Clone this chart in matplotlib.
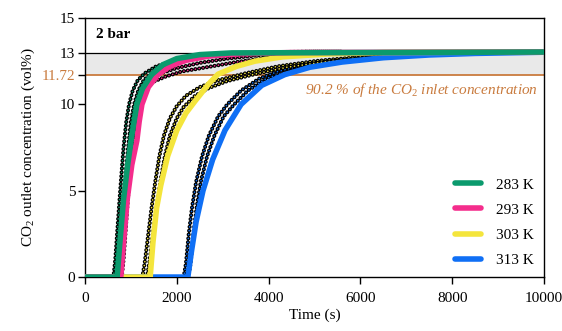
import matplotlib
matplotlib.use("Agg")
import matplotlib.pyplot as plt

plt.rcParams["font.family"] = ["Liberation Serif", "DejaVu Serif"]
plt.rcParams["mathtext.fontset"] = "custom"
plt.rcParams["mathtext.rm"] = "Liberation Serif"
plt.rcParams["mathtext.it"] = "Liberation Serif:italic"
plt.rcParams["lines.scale_dashes"] = False

temps = ["283 K", "293 K", "303 K", "313 K"]
colors = ["#0b9a6d", "#f42d8c", "#f4e53c", "#0f6ff5"]

# model curves (time s, CO2 vol%)
t_283 = [0, 700, 760, 840, 930, 1020, 1130, 1250, 1450, 1700, 2000, 2500, 3200, 10000]
c_283 = [0, 0, 2, 4.5, 6.5, 8.2, 10, 10.9, 11.72, 12.3, 12.65, 12.88, 12.98, 13.03]
t_293 = [0, 780, 840, 920, 1020, 1130, 1180, 1240, 1380, 1590, 1850, 2200, 2700, 3400, 4500, 10000]
c_293 = [0, 0, 2, 4.5, 6.5, 7.9, 9, 10, 11, 11.72, 12.2, 12.55, 12.8, 12.93, 13.0, 13.03]
t_303 = [0, 1420, 1480, 1560, 1650, 1800, 2000, 2200, 2400, 2700, 2900, 3300, 3700, 4300, 5300, 6500, 10000]
c_303 = [0, 0, 2, 4, 5.3, 7, 8.5, 9.5, 10.2, 11.2, 11.75, 12.2, 12.5, 12.75, 12.92, 13.0, 13.03]
t_313 = [0, 2240, 2320, 2420, 2570, 2780, 3050, 3400, 3850, 4350, 4900, 5600, 6500, 7500, 8500, 10000]
c_313 = [0, 0, 1.5, 3.2, 5, 6.8, 8.5, 10, 11.1, 11.72, 12.15, 12.45, 12.7, 12.86, 12.95, 13.02]

# experimental runs
exp_283a_t = [620, 660, 700, 740, 790, 840, 900, 960, 1040, 1150, 1300, 1550, 1900, 2400, 3000, 3800, 4800, 5600]
exp_283a_c = [0, 1, 2.5, 4, 5.8, 7.5, 9, 10, 10.8, 11.4, 11.8, 12.2, 12.5, 12.75, 12.9, 13.0, 13.05, 13.05]
exp_283b_t = [700, 740, 780, 830, 880, 940, 1000, 1070, 1160, 1280, 1450, 1700, 2100, 2600, 3200, 4000, 5000, 5600]
exp_283b_c = [0, 1, 2.5, 4, 5.8, 7.5, 9, 10, 10.8, 11.4, 11.8, 12.2, 12.5, 12.75, 12.9, 13.0, 13.05, 13.05]
exp_293a_t = [800, 840, 880, 920, 970, 1030, 1100, 1180, 1300, 1480, 1750, 2100, 2650, 3300, 4000, 4800, 5600]
exp_293a_c = [0, 1, 2.5, 4, 5.8, 7.5, 9, 10, 10.8, 11.3, 11.6, 11.9, 12.15, 12.45, 12.7, 12.88, 12.98]
exp_293b_t = [760, 800, 840, 880, 930, 990, 1050, 1120, 1230, 1400, 1650, 2000, 2500, 3100, 3800, 4700, 5500]
exp_293b_c = [0, 1, 2.5, 4, 5.8, 7.5, 9, 10, 10.9, 11.45, 11.8, 12.1, 12.4, 12.65, 12.85, 12.98, 13.03]
exp_303a_t = [1250, 1300, 1380, 1450, 1530, 1620, 1720, 1850, 2000, 2200, 2500, 2900, 3500, 4200, 5000, 6000, 7000, 8000]
exp_303a_c = [0, 0.8, 2.5, 4, 5.5, 7, 8.2, 9.2, 9.9, 10.5, 11.0, 11.4, 11.8, 12.2, 12.5, 12.75, 12.9, 13.0]
exp_303b_t = [1350, 1400, 1480, 1560, 1640, 1740, 1850, 2000, 2150, 2400, 2700, 3100, 3700, 4400, 5200, 6200, 7200, 8200]
exp_303b_c = [0, 0.8, 2.5, 4, 5.5, 7, 8.2, 9.2, 9.85, 10.5, 10.95, 11.35, 11.75, 12.15, 12.45, 12.7, 12.88, 12.98]
exp_313a_t = [2150, 2200, 2260, 2330, 2420, 2550, 2700, 2900, 3100, 3400, 3800, 4200, 4700, 5300, 6000, 7000, 8000, 9000]
exp_313a_c = [0, 0.8, 2.5, 4, 5.5, 7, 8.2, 9.3, 10, 10.8, 11.5, 11.9, 12.25, 12.5, 12.7, 12.87, 12.97, 13.02]
exp_313b_t = [2250, 2300, 2360, 2430, 2520, 2660, 2820, 3020, 3250, 3550, 3950, 4350, 4850, 5450, 6200, 7200, 8200, 9200]
exp_313b_c = [0, 0.8, 2.5, 4, 5.5, 7, 8.2, 9.3, 10, 10.8, 11.5, 11.85, 12.2, 12.45, 12.67, 12.85, 12.95, 13.0]

c_inlet = 13
c_90 = 11.72

fs = 11
fig = plt.figure(figsize=(5.62, 3.31), dpi=100)
ax = fig.add_axes([0.1512, 0.163, 0.817, 0.7826])

ax.axhspan(c_90, c_inlet, color="#e9e9e9", lw=0, zorder=0)
ax.axhline(c_inlet, color="black", lw=0.9, zorder=1)
ax.axhline(c_90, color="#c97b3e", lw=1.3, zorder=1)

exp_runs = [
    (exp_313a_t, exp_313a_c, 3), (exp_313b_t, exp_313b_c, 3),
    (exp_303a_t, exp_303a_c, 2), (exp_303b_t, exp_303b_c, 2),
    (exp_293a_t, exp_293a_c, 1), (exp_293b_t, exp_293b_c, 1),
    (exp_283a_t, exp_283a_c, 0), (exp_283b_t, exp_283b_c, 0),
]
dots = (0, (0.001, 2.8))
for t, c, i in exp_runs:
    ax.plot(t, c, color="black", lw=3.0, ls=dots, dash_capstyle="round", zorder=2)
    ax.plot(t, c, color=colors[i], lw=1.2, ls=dots, dash_capstyle="round", zorder=2)

models = [(t_283, c_283), (t_293, c_293), (t_303, c_303), (t_313, c_313)]
for i in [3, 2, 1, 0]:
    t, c = models[i]
    ax.plot(t, c, color=colors[i], lw=4.0, solid_capstyle="round",
            solid_joinstyle="round", label=temps[i], zorder=3 + (3 - i))

ax.set_xlim(0, 10000)
ax.set_ylim(0, 15)
ax.set_xticks([0, 2000, 4000, 6000, 8000, 10000])
ax.set_yticks([0, 5, 10, c_90, 13, 15])
ax.set_yticklabels(["0", "5", "10", "11.72", "13", "15"])
ax.get_yticklabels()[3].set_color("#c97b3e")
ax.tick_params(direction="out", length=5, width=1, labelsize=fs)
ax.tick_params(axis="x", pad=6)
ax.tick_params(axis="y", pad=2)
for s in ax.spines.values():
    s.set_linewidth(1)

ax.set_xlabel("Time (s)", fontsize=fs, labelpad=2)
ax.set_ylabel("CO$_2$ outlet concentration (vol%)", fontsize=fs, labelpad=3)

ax.text(230, 14.05, "2 bar", fontsize=fs, fontweight="bold", va="center")
ax.text(9870, 10.85, "90.2 % of the CO$_2$ inlet concentration", color="#c97b3e",
        fontsize=fs, style="italic", ha="right", va="center")

h, l = ax.get_legend_handles_labels()
ax.legend(h[::-1], l[::-1], loc="lower right", bbox_to_anchor=(1.0, 0.0),
          frameon=False, fontsize=fs, handlelength=1.7, labelspacing=0.75,
          handletextpad=1.0, borderaxespad=0.25)

fig.savefig("out.png", dpi=100)
